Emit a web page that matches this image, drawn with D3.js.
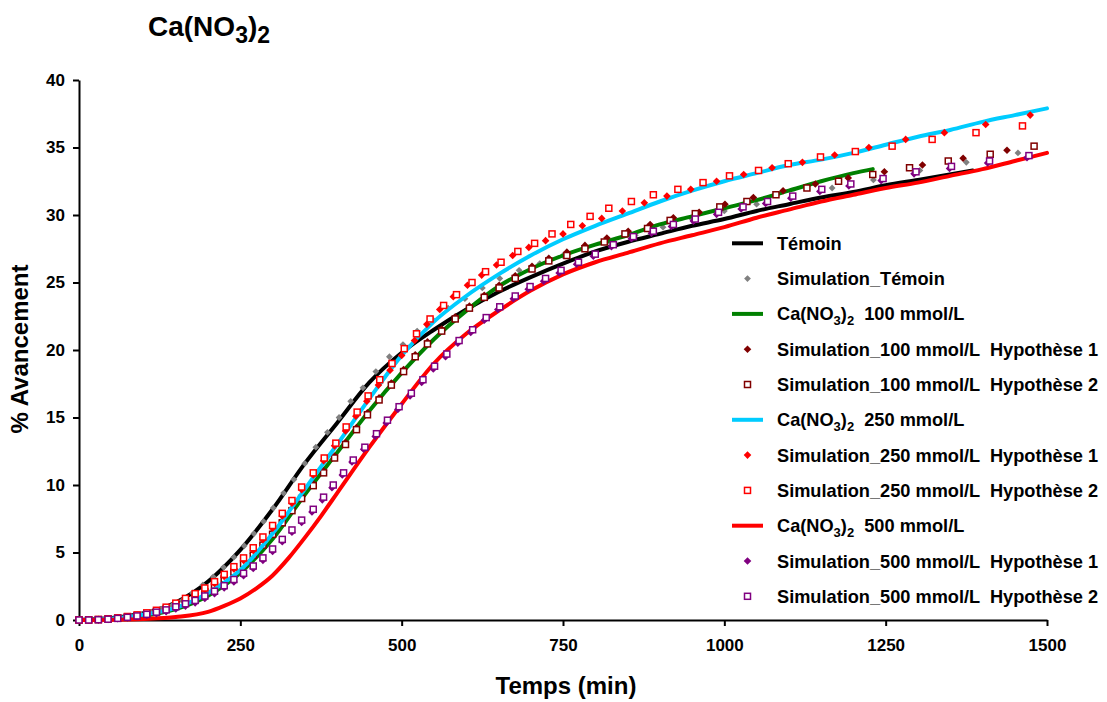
<!DOCTYPE html>
<html><head><meta charset="utf-8">
<script src="https://cdn.jsdelivr.net/npm/d3@7"></script>
<style>
body{margin:0;background:#fff;}
svg text{font-family:Arial,"Liberation Sans",Helvetica,sans-serif;font-weight:bold;fill:#000;}
</style></head><body>
<svg id="chart" width="1107" height="702"></svg>
<script>
// ---------- DATA ----------
const xTicks = [0,250,500,750,1000,1250,1500];
const yTicks = [0,5,10,15,20,25,30,35,40];
const xTitle = "Temps (min)";
const yTitle = "% Avancement";

const early = [0,15,30,45,60,75,90,105,120,135,150,165,180,195,210,225,240,255,270,285,300,315,330,345];

// Témoin (line)
const temoinT = [0,50,100,150,200,250,300,350,400,450,500,550,600,650,700,750,800,850,900,950,1000,1050,1100,1150,1200,1250,1300,1385];
const temoinV = [0,0.15,0.5,1.3,2.85,5.2,8.2,11.6,14.6,17.6,19.8,21.5,23.0,24.3,25.4,26.4,27.3,28.0,28.6,29.2,29.7,30.3,30.8,31.3,31.7,32.2,32.6,33.3];
// Simulation_Témoin
const simTemoinT = [0,16,32,48,64,80,96,112,128,144,160,176,192,208,224,240,256,271,286,301,317,333,350,367,385,403,421,440,460,481,502,524,547,572,598,625,652,682,714,750,785,822,862,905,950,1000,1050,1105,1167,1231,1303,1375,1455];
const simTemoinV = [0,0.01,0.04,0.09,0.17,0.27,0.4,0.58,0.8,1.07,1.45,2.0,2.6,3.2,3.9,4.65,5.5,6.4,7.3,8.3,9.4,10.4,11.6,12.8,13.9,15.0,16.2,17.2,18.4,19.5,20.4,21.4,22.3,23.1,23.8,24.6,25.3,25.9,26.4,27.0,27.5,28.0,28.5,29.1,29.7,30.3,30.8,31.4,32.0,32.6,33.3,33.9,34.6];

// Ca(NO3)2 100 mmol/L
const c100T = [0,50,100,150,200,250,300,350,400,450,500,550,600,650,700,750,800,850,900,950,1000,1050,1100,1150,1200,1230];
const c100V = [0,0.08,0.3,0.8,1.8,3.5,6.0,9.3,12.4,15.5,18.3,20.8,22.9,24.7,26.0,27.0,27.8,28.5,29.3,29.9,30.5,31.1,31.8,32.5,33.1,33.4];
const s100h1T = early.concat([363,379,396,413,430,447,465,484,503,521,540,562,583,605,628,651,676,702,728,756,784,818,851,885,921,961,1001,1045,1091,1141,1192,1248,1307,1370,1438]);
const s100h1V = [0,0.01,0.03,0.08,0.14,0.23,0.33,0.47,0.63,0.84,1.1,1.4,1.76,2.17,2.63,3.14,3.66,4.26,4.92,5.67,6.48,7.33,8.23,9.13,
  10.1,11.05,12.15,13.15,14.25,15.35,16.45,17.55,18.55,19.65,20.6,21.55,22.45,23.25,24.05,24.8,25.5,26.2,26.8,27.25,27.75,28.3,28.8,29.3,29.8,30.2,30.8,31.3,31.8,32.3,32.75,33.2,33.7,34.2,34.8];
const s100h2T = early.concat([363,379,396,413,430,447,465,484,503,521,540,562,583,605,628,651,676,702,728,756,784,814,846,881,916,955,993,1035,1080,1128,1177,1230,1287,1347,1412,1480]);
const s100h2V = [0,0.01,0.03,0.07,0.13,0.21,0.31,0.44,0.6,0.8,1.05,1.35,1.7,2.1,2.55,3.05,3.55,4.15,4.8,5.55,6.35,7.2,8.1,9.0,
  9.95,10.9,12.0,13.0,14.1,15.2,16.3,17.4,18.4,19.5,20.45,21.4,22.3,23.1,23.9,24.6,25.3,26.0,26.6,27.0,27.5,28.0,28.6,29.0,29.6,30.1,30.6,31.0,31.5,32.0,32.5,33.0,33.5,34.0,34.5,35.1];

// Ca(NO3)2 250 mmol/L
const c250T = [0,50,100,150,200,250,300,350,400,450,500,550,600,650,700,750,800,850,900,950,1000,1050,1100,1150,1200,1250,1300,1350,1400,1450,1500];
const c250V = [0,0.1,0.4,0.9,2.0,3.7,6.4,9.7,13.0,16.4,19.6,22.1,24.0,25.6,27.0,28.2,29.2,30.1,31.0,31.8,32.5,33.1,33.7,34.1,34.6,35.2,35.8,36.3,36.9,37.4,37.9];
const s250h1T = early.concat([363,379,396,413,429,446,464,482,500,520,539,559,580,602,624,647,672,697,723,750,780,810,842,876,911,948,988,1030,1074,1121,1171,1224,1281,1341,1405,1474]);
const s250h1V = [0,0.01,0.03,0.08,0.14,0.23,0.34,0.48,0.65,0.87,1.15,1.48,1.83,2.24,2.7,3.22,3.78,4.42,5.15,5.95,6.8,7.7,8.65,9.65,
  10.75,11.8,12.9,14.0,15.1,16.2,17.4,18.5,19.6,20.7,21.9,23.0,23.95,24.8,25.55,26.3,27.0,27.6,28.1,28.6,29.2,29.75,30.3,30.9,31.4,31.9,32.5,33.0,33.5,33.9,34.45,35.0,35.6,36.1,36.7,37.4];
const s250h2T = early.concat([363,380,398,414,431,448,466,485,504,523,544,565,585,609,630,654,680,706,733,762,792,821,856,890,928,967,1008,1053,1099,1149,1203,1260,1322,1390,1462]);
const s250h2V = [0,0.01,0.04,0.09,0.16,0.26,0.38,0.53,0.72,0.95,1.25,1.6,1.95,2.37,2.84,3.38,3.95,4.6,5.35,6.15,7.0,7.9,8.85,9.85,
  10.9,12.0,13.1,14.3,15.4,16.6,17.8,19.0,20.1,21.2,22.3,23.3,24.1,25.0,25.8,26.5,27.3,27.9,28.6,29.3,29.9,30.5,31.0,31.5,31.9,32.4,32.9,33.3,33.8,34.3,34.7,35.1,35.6,36.1,36.6];

// Ca(NO3)2 500 mmol/L
const c500T = [0,50,100,150,200,225,250,275,300,325,350,375,400,450,500,550,600,650,700,750,800,850,900,950,1000,1050,1100,1150,1200,1250,1300,1350,1400,1450,1500];
const c500V = [0,0.02,0.08,0.22,0.6,1.05,1.6,2.35,3.3,4.6,6.1,7.7,9.4,12.8,16.0,19.0,21.2,22.9,24.4,25.6,26.5,27.2,27.9,28.5,29.1,29.8,30.4,31.0,31.5,32.0,32.4,32.9,33.4,34.0,34.6];
const s500h1T = early.concat([361,377,392,408,423,441,459,476,494,513,531,549,568,587,607,628,649,673,696,720,744,771,797,825,856,887,918,952,988,1026,1064,1103,1148,1193,1243,1294,1349,1408,1469]);
const s500h1V = [0,0,0.01,0.04,0.09,0.16,0.24,0.34,0.47,0.62,0.82,1.03,1.27,1.6,1.95,2.37,2.82,3.28,3.82,4.42,5.08,5.8,6.5,7.22,
  8.0,8.9,9.8,10.75,11.7,12.65,13.6,14.6,15.6,16.6,17.6,18.6,19.5,20.5,21.3,22.2,23.0,23.8,24.5,25.1,25.7,26.35,26.95,27.65,28.25,28.65,29.15,29.55,30.05,30.45,30.85,31.25,31.75,32.15,32.55,33.05,33.45,33.85,34.25];
const s500h2T = early.concat([363,379,394,410,425,443,461,478,496,515,533,551,570,589,610,631,652,676,699,723,747,774,800,828,859,890,921,955,991,1029,1067,1106,1151,1196,1246,1297,1352,1411,1472]);
const s500h2V = [0,0,0.02,0.06,0.12,0.2,0.3,0.42,0.58,0.75,0.98,1.2,1.45,1.78,2.13,2.54,3.0,3.46,4.0,4.6,5.26,5.97,6.67,7.4,
  8.2,9.1,10.0,10.9,11.85,12.8,13.8,14.8,15.8,16.8,17.8,18.8,19.7,20.7,21.5,22.4,23.2,24.0,24.7,25.3,25.9,26.5,27.1,27.8,28.4,28.8,29.3,29.7,30.2,30.6,31.0,31.4,31.9,32.3,32.7,33.2,33.6,34.0,34.4];

const labels = [
  "Témoin",
  "Simulation_Témoin",
  "Ca(NO{3}){2}  100 mmol/L",
  "Simulation_100 mmol/L  Hypothèse 1",
  "Simulation_100 mmol/L  Hypothèse 2",
  "Ca(NO{3}){2}  250 mmol/L",
  "Simulation_250 mmol/L  Hypothèse 1",
  "Simulation_250 mmol/L  Hypothèse 2",
  "Ca(NO{3}){2}  500 mmol/L",
  "Simulation_500 mmol/L  Hypothèse 1",
  "Simulation_500 mmol/L  Hypothèse 2"
];
const titleText = "Ca(NO{3}){2}";

// ---------- BUILD ----------
const zip = (t,v) => t.map((d,i)=>({t:d,v:v[i]}));
const series = [
  {type:"line", data:zip(temoinT,temoinV), color:"#000000"},
  {type:"diamond", data:zip(simTemoinT,simTemoinV), color:"#808080", r:3.4},
  {type:"line", data:zip(c100T,c100V), color:"#008000"},
  {type:"diamond", data:zip(s100h1T,s100h1V), color:"#800000", r:3.8},
  {type:"square", data:zip(s100h2T,s100h2V), color:"#800000"},
  {type:"line", data:zip(c250T,c250V), color:"#00CCFF"},
  {type:"diamond", data:zip(s250h1T,s250h1V), color:"#FF0000", r:3.8},
  {type:"square", data:zip(s250h2T,s250h2V), color:"#FF0000"},
  {type:"line", data:zip(c500T,c500V), color:"#FF0000"},
  {type:"diamond", data:zip(s500h1T,s500h1V), color:"#800080", r:3.8},
  {type:"square", data:zip(s500h2T,s500h2V), color:"#800080"}
];
series.forEach((s,i)=>s.label=labels[i]);

const svg = d3.select("#chart");
const x = d3.scaleLinear().domain([0,1500]).range([79,1047]);
const y = d3.scaleLinear().domain([0,40]).range([620,80]);

// text with {n} subscripts; baseline shift carried to the next tspan
function richText(sel, str, subSize, subShift){
  const parts = str.split(/\{(\d)\}/);
  let pending = 0;
  parts.forEach((p,i)=>{
    if(i%2===1){
      sel.append("tspan").attr("font-size",subSize).attr("dy",subShift + pending).text(p);
      pending = -subShift;
    } else if(p!==""){
      const ts = sel.append("tspan").text(p);
      if(pending) ts.attr("dy",pending);
      pending = 0;
    }
  });
}

// title
const title = svg.append("text").attr("x",148).attr("y",36).attr("font-size",28);
richText(title, titleText, 23, 7);

// axes
const gx = svg.append("g").attr("transform","translate(0,620)")
  .call(d3.axisBottom(x).tickValues(xTicks).tickSize(6).tickSizeOuter(0).tickPadding(13).tickFormat(d3.format("d")));
const gy = svg.append("g").attr("transform","translate(79,0)")
  .call(d3.axisLeft(y).tickValues(yTicks).tickSize(6).tickSizeOuter(0).tickPadding(8).tickFormat(d3.format("d")));
[gx,gy].forEach(g=>{
  g.select(".domain").attr("stroke","#000").attr("stroke-width",2);
  g.selectAll(".tick line").attr("stroke","#000").attr("stroke-width",2);
  g.selectAll(".tick text").attr("font-size",17).attr("font-weight","bold")
    .attr("font-family","Arial, 'Liberation Sans', sans-serif").attr("fill","#000");
});

svg.append("text").attr("x",566).attr("y",694).attr("text-anchor","middle").attr("font-size",24).text(xTitle);
svg.append("text").attr("transform","translate(28,349) rotate(-90)").attr("text-anchor","middle").attr("font-size",24).text(yTitle);

// marks
const line = d3.line().x(d=>x(d.t)).y(d=>y(d.v)).curve(d3.curveMonotoneX);
const diamondPath = r => `M0,${-r}L${r},0L0,${r}L${-r},0Z`;
const plot = svg.append("g");
series.forEach(s=>{
  if(s.type==="line"){
    plot.append("path").datum(s.data).attr("d",line).attr("fill","none")
      .attr("stroke",s.color).attr("stroke-width",4).attr("stroke-linejoin","round").attr("stroke-linecap","round");
  } else if(s.type==="diamond"){
    plot.append("g").selectAll("path").data(s.data).join("path")
      .attr("d",diamondPath(s.r)).attr("transform",d=>`translate(${x(d.t)},${y(d.v)})`).attr("fill",s.color);
  } else {
    plot.append("g").selectAll("rect").data(s.data).join("rect")
      .attr("x",d=>x(d.t)-3).attr("y",d=>y(d.v)-3).attr("width",6).attr("height",6)
      .attr("fill","#fff").attr("stroke",s.color).attr("stroke-width",1.5);
  }
});

// legend
const leg = svg.append("g");
series.forEach((s,i)=>{
  const cy = 243.3 + i*35.3;
  const g = leg.append("g");
  if(s.type==="line"){
    g.append("line").attr("x1",732).attr("x2",763).attr("y1",cy).attr("y2",cy).attr("stroke",s.color).attr("stroke-width",4);
  } else if(s.type==="diamond"){
    g.append("path").attr("d",diamondPath(s.r)).attr("transform",`translate(747.5,${cy})`).attr("fill",s.color);
  } else {
    g.append("rect").attr("x",744.5).attr("y",cy-3).attr("width",6).attr("height",6)
      .attr("fill","#fff").attr("stroke",s.color).attr("stroke-width",1.5);
  }
  const t = g.append("text").attr("x",777).attr("y",cy+6.5).attr("font-size",18.2).style("white-space","pre");
  richText(t, s.label, 13, 5);
});
</script>
</body></html>
